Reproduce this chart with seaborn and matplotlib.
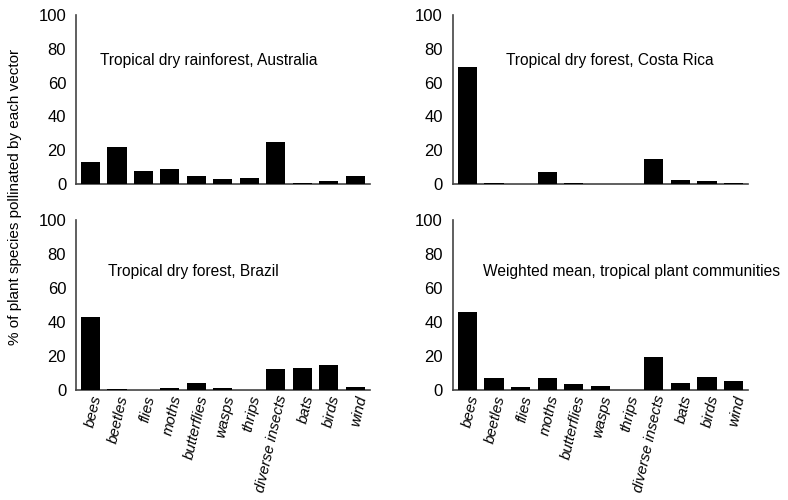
import matplotlib
matplotlib.use("Agg")
import matplotlib.pyplot as plt
import seaborn as sns

# pollination vectors (x categories)
vetores = ["bees", "beetles", "flies", "moths", "butterflies", "wasps",
           "thrips", "diverse insects", "bats", "birds", "wind"]

# % of plant species pollinated by each vector
australia = [13, 22, 7.7, 8.9, 4.7, 3, 3.5, 25, 0.8, 1.8, 4.7]
costa_rica = [69, 0.8, 0, 7.1, 0.8, 0, 0, 14.8, 2.4, 1.8, 0.8]
brasil = [43, 0.8, 0, 1.2, 4.1, 1.2, 0, 12.4, 12.9, 14.7, 1.8]
media = [46, 7.1, 1.8, 7.1, 3.5, 2.4, 0, 19.4, 4.1, 7.6, 5.3]

titulos = ["Tropical dry rainforest, Australia", "Tropical dry forest, Costa Rica",
           "Tropical dry forest, Brazil", "Weighted mean, tropical plant communities"]
series = [australia, costa_rica, brasil, media]

sns.set_style("white")
plt.rcParams['font.family'] = ['Liberation Sans', 'DejaVu Sans']
plt.rcParams['text.color'] = 'black'
plt.rcParams['xtick.color'] = 'black'
plt.rcParams['ytick.color'] = 'black'

fig = plt.figure(figsize=(7.88, 5.0), dpi=100)

# posicoes dos paineis [left, bottom, width, height] em fracao da figura
caixas = [[0.0964, 0.632, 0.373, 0.338],
          [0.5745, 0.632, 0.375, 0.338],
          [0.0964, 0.220, 0.373, 0.340],
          [0.5745, 0.220, 0.375, 0.340]]
pos_texto = [(0.082, 0.73), (0.18, 0.73), (0.109, 0.696), (0.103, 0.696)]

for i, (caixa, valores, titulo) in enumerate(zip(caixas, series, titulos)):
    ax = fig.add_axes(caixa)
    sns.barplot(x=vetores, y=valores, color="black", saturation=1,
                width=0.72, linewidth=0, ax=ax, zorder=3)
    ax.set_ylim(0, 100)
    ax.set_xlim(-0.55, 10.55)
    ax.set_yticks([0, 20, 40, 60, 80, 100])
    ax.tick_params(axis="y", labelsize=12, length=0, pad=7)
    ax.tick_params(axis="x", length=0)
    sns.despine(ax=ax)
    for lado in ["left", "bottom"]:
        ax.spines[lado].set_color("#444444")
        ax.spines[lado].set_linewidth(1.2)
    ax.text(pos_texto[i][0], pos_texto[i][1], titulo, transform=ax.transAxes,
            fontsize=11.2, va="center", ha="left")
    if i < 2:
        ax.set_xticklabels([])
    else:
        ax.set_xticks(range(len(vetores)))
        ax.set_xticklabels(vetores, rotation=77, ha="right",
                           rotation_mode="anchor", style="italic", fontsize=10.8)
        ax.tick_params(axis="x", pad=3)

fig.text(0.019, 0.606, "% of plant species pollinated by each vector",
         rotation=90, va="center", ha="center", fontsize=11)

plt.savefig("out.png", dpi=100)
